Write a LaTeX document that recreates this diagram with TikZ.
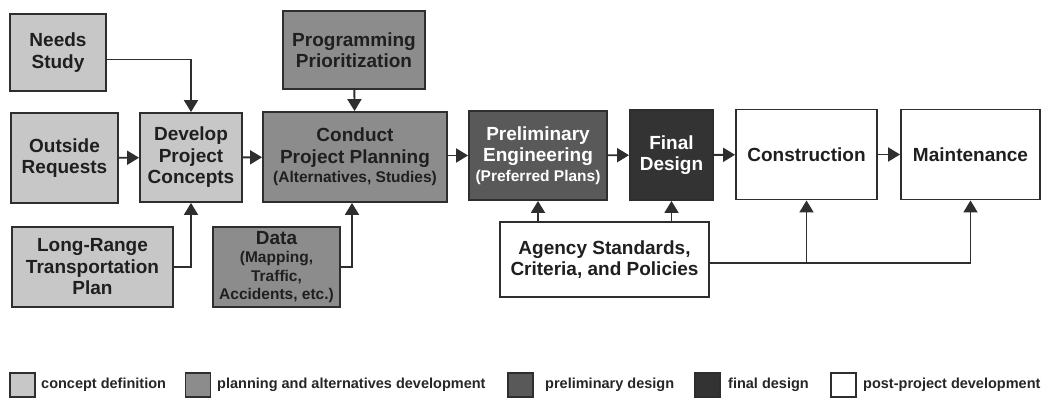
\documentclass[tikz,border=0pt]{standalone}
\usepackage{fontspec}
\setmainfont{Liberation Sans}
\usetikzlibrary{arrows.meta,positioning}

\definecolor{conceptgray}{gray}{0.78}
\definecolor{planninggray}{gray}{0.55}
\definecolor{prelimgray}{gray}{0.35}
\definecolor{finalgray}{gray}{0.2}
\definecolor{linegray}{gray}{0.18}

\newcommand{\boxfont}{\fontsize{19}{21.5}\selectfont\bfseries}
\newcommand{\subfont}{\fontsize{15.5}{18}\selectfont\bfseries}
\newcommand{\keyfont}{\fontsize{14.5}{17}\selectfont\bfseries}

\tikzset{
	box/.style={draw=linegray, line width=1.9pt, align=center, inner sep=2pt, text=black!88, font=\boxfont},
	concept/.style={box, fill=conceptgray},
	planning/.style={box, fill=planninggray},
	prelim/.style={box, fill=prelimgray, text=white},
	final/.style={box, fill=finalgray, text=white},
	post/.style={box, fill=white},
	arr/.style={draw=linegray, line width=1.9pt, -{Triangle[length=12pt,width=14pt]}},
	keybox/.style={draw=linegray, line width=1.4pt, minimum width=25pt, minimum height=24pt, inner sep=0pt},
	keytext/.style={anchor=west, inner sep=0pt, font=\keyfont, text=black!85},
}

\begin{document}
\begin{tikzpicture}[x=1pt, y=-1pt]
		\useasboundingbox (0,0) rectangle (1044,398);

		\node[concept, minimum width=96pt, minimum height=77pt] (needs) at (58,52.5) {Needs\\Study};
		\node[concept, minimum width=107pt, minimum height=90pt] (outside) at (64.5,158) {Outside\\Requests};
		\node[concept, minimum width=161pt, minimum height=80pt] (longrange) at (92.5,267) {Long-Range\\Transportation\\Plan};
		\node[concept, minimum width=102pt, minimum height=89pt] (develop) at (191,157.5) {Develop\\Project\\Concepts};
		\node[planning, minimum width=142pt, minimum height=78pt] (prog) at (354,50) {Programming\\Prioritization};
		\node[planning, minimum width=184pt, minimum height=90pt] (conduct) at (355,157) {Conduct\\Project Planning\\[-2pt]{\subfont (Alternatives, Studies)}};
		\node[planning, minimum width=127pt, minimum height=80pt] (data) at (276.5,267) {Data\\[-3pt]{\subfont (Mapping,}\\[-3pt]{\subfont Traffic,}\\[-3pt]{\subfont Accidents, etc.)}};
		\node[prelim, minimum width=138pt, minimum height=89pt] (prelim) at (538,155.5) {Preliminary\\Engineering\\[-2pt]{\subfont (Preferred Plans)}};
		\node[final, minimum width=83pt, minimum height=90pt] (final) at (671.5,155) {Final\\Design};
		\node[post, minimum width=141pt, minimum height=90pt] (constr) at (806.5,154.5) {Construction};
		\node[post, minimum width=139pt, minimum height=90pt] (maint) at (970.5,154.5) {Maintenance};
		\node[post, minimum width=209pt, minimum height=75pt] (agency) at (604.5,259.5) {Agency Standards,\\Criteria, and Policies};

		\draw[arr] ([yshift=-7pt]needs.east) -| (develop.north);
		\draw[arr] (outside) -- (develop);
		\draw[arr] (longrange.east) -| (develop.south);
		\draw[arr] (develop) -- (conduct);
		\draw[arr] (prog) -- (conduct);
		\draw[arr] (data.east) -| ([xshift=-3pt]conduct.south);
		\draw[arr] (conduct.east |- prelim) -- (prelim);
		\draw[arr] (prelim) -- (final);
		\draw[arr] (final) -- (constr);
		\draw[arr] (constr) -- (maint);
		\draw[arr] (prelim.south |- agency.north) -- (prelim.south);
		\draw[arr] (final.south |- agency.north) -- (final.south);
		\coordinate (split) at ([yshift=-3.5pt]agency.east -| constr.south);
		\draw[arr] ([yshift=-3.5pt]agency.east) -| (maint.south);
		\draw[arr] (split) -- (constr.south);

		\node[keybox, fill=conceptgray] (k1) at (22.5,385) {};
		\node[keytext] (t1) at (41,385) {concept definition};
		\node[keybox, fill=planninggray] (k2) at (198,385) {};
		\node[keytext] (t2) at (217,385) {planning and alternatives development};
		\node[keybox, fill=prelimgray] (k3) at (520.5,385) {};
		\node[keytext] (t3) at (545,385) {preliminary design};
		\node[keybox, fill=finalgray] (k4) at (707.5,385) {};
		\node[keytext] (t4) at (728,385) {final design};
		\node[keybox, fill=white] (k5) at (843.5,385) {};
		\node[keytext] (t5) at (863,385) {post-project development};
	\end{tikzpicture}
\end{document}
